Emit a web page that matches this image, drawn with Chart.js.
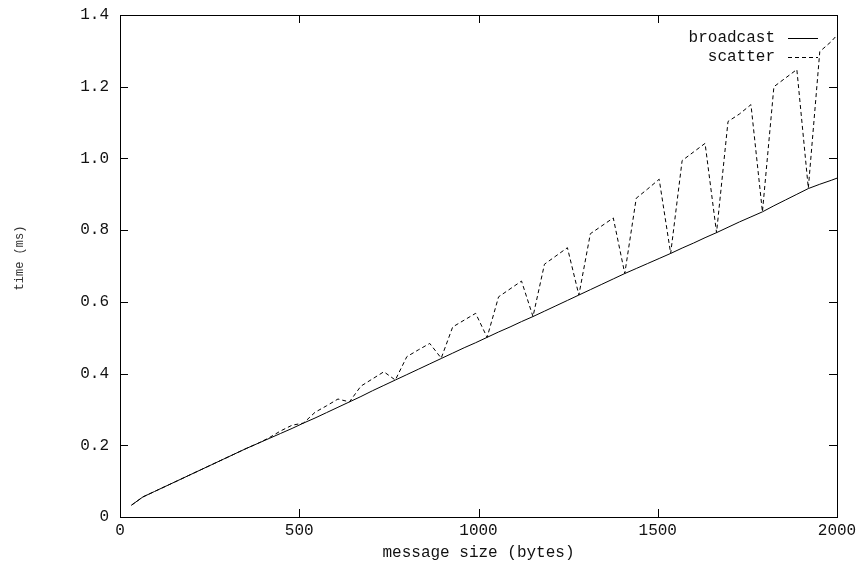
<!DOCTYPE html>
<html>
<head>
<meta charset="utf-8">
<script src="https://cdn.jsdelivr.net/npm/chart.js"></script>
<style>
  html, body { margin: 0; padding: 0; background: #fff; }
  canvas { display: block; }
</style>
</head>
<body>
<canvas id="chart" width="859" height="565"></canvas>
<script>
// message sizes in bytes, one sample every 32 bytes
const msgSize = [32, 64, 96, 128, 160, 192, 224, 256, 288, 320, 352, 384,
  416, 448, 480, 512, 544, 576, 608, 640, 672, 704, 736, 768,
  800, 832, 864, 896, 928, 960, 992, 1024, 1056, 1088, 1120, 1152,
  1184, 1216, 1248, 1280, 1312, 1344, 1376, 1408, 1440, 1472, 1504, 1536,
  1568, 1600, 1632, 1664, 1696, 1728, 1760, 1792, 1824, 1856, 1888, 1920,
  1952, 1984, 2016];

// time in ms
const broadcast = [0.033, 0.056, 0.071, 0.086, 0.101, 0.116, 0.131, 0.146, 0.161, 0.176, 0.191, 0.205,
  0.219, 0.233, 0.247, 0.262, 0.276, 0.291, 0.306, 0.321, 0.336, 0.352, 0.367, 0.382,
  0.397, 0.412, 0.427, 0.442, 0.457, 0.472, 0.486, 0.501, 0.516, 0.530, 0.545, 0.559,
  0.574, 0.589, 0.604, 0.619, 0.634, 0.649, 0.664, 0.679, 0.693, 0.707, 0.721, 0.735,
  0.750, 0.764, 0.779, 0.793, 0.808, 0.823, 0.837, 0.851, 0.868, 0.884, 0.900, 0.916,
  0.928, 0.939, 0.951];

const scatter = [0.033, 0.056, 0.071, 0.086, 0.101, 0.116, 0.131, 0.146, 0.161, 0.176, 0.191, 0.205,
  0.221, 0.240, 0.256, 0.262, 0.292, 0.310, 0.329, 0.321, 0.365, 0.385, 0.405, 0.382,
  0.447, 0.466, 0.484, 0.443, 0.530, 0.549, 0.568, 0.501, 0.614, 0.636, 0.658, 0.559,
  0.705, 0.728, 0.751, 0.619, 0.790, 0.812, 0.834, 0.679, 0.889, 0.915, 0.942, 0.735,
  0.994, 1.018, 1.042, 0.793, 1.103, 1.124, 1.150, 0.851, 1.200, 1.224, 1.248, 0.917,
  1.298, 1.326, 1.362];

const xTickLabels = ['0', '500', '1000', '1500', '2000'];
const yTickLabels = ['0', '0.2', '0.4', '0.6', '0.8', '1.0', '1.2', '1.4'];

const FAMILY = '"Liberation Mono", "DejaVu Sans Mono", monospace';
const FONT = { family: FAMILY, size: 16 };
const TICK = 8;

const points = (ys) => msgSize.map((x, i) => ({ x: x, y: ys[i] }));

// gnuplot style box with inward tics on all four sides, the key and the y label
const frame = {
  id: 'frame',
  afterDatasetsDraw(chart) {
    const { ctx, chartArea: a, scales: { x, y } } = chart;
    ctx.save();
    ctx.strokeStyle = '#000';
    ctx.lineWidth = 1;
    ctx.setLineDash([]);
    ctx.strokeRect(a.left + 0.5, a.top + 0.5, a.right - a.left, a.bottom - a.top);

    ctx.beginPath();
    x.ticks.forEach(t => {
      const px = Math.round(x.getPixelForValue(t.value)) + 0.5;
      ctx.moveTo(px, a.bottom); ctx.lineTo(px, a.bottom - TICK);
      ctx.moveTo(px, a.top); ctx.lineTo(px, a.top + TICK);
    });
    y.ticks.forEach(t => {
      const py = Math.round(y.getPixelForValue(t.value)) + 0.5;
      ctx.moveTo(a.left, py); ctx.lineTo(a.left + TICK, py);
      ctx.moveTo(a.right, py); ctx.lineTo(a.right - TICK, py);
    });
    ctx.stroke();

    // key, top right: label then line sample
    ctx.font = FONT.size + 'px ' + FAMILY;
    ctx.textAlign = 'right';
    ctx.textBaseline = 'middle';
    ctx.fillStyle = '#111';
    chart.data.datasets.forEach((ds, i) => {
      const ky = 38 + i * 19;
      ctx.fillText(ds.label, 775, ky);
      ctx.setLineDash(ds.borderDash || []);
      ctx.beginPath();
      ctx.moveTo(788, ky + 0.5);
      ctx.lineTo(818, ky + 0.5);
      ctx.stroke();
    });

    // rotated y label
    ctx.font = '12px ' + FAMILY;
    ctx.textAlign = 'center';
    ctx.fillStyle = '#333';
    ctx.translate(20, 258);
    ctx.rotate(-Math.PI / 2);
    ctx.fillText('time (ms)', 0, 0);
    ctx.restore();
  }
};

new Chart(document.getElementById('chart'), {
  type: 'line',
  data: {
    datasets: [
      {
        label: 'broadcast',
        data: points(broadcast),
        borderColor: '#000',
        borderWidth: 1,
        pointRadius: 0,
        tension: 0
      },
      {
        label: 'scatter',
        data: points(scatter),
        borderColor: '#000',
        borderWidth: 1,
        borderDash: [4, 3],
        pointRadius: 0,
        tension: 0
      }
    ]
  },
  options: {
    responsive: false,
    animation: false,
    devicePixelRatio: 1,
    layout: { padding: { top: 15, right: 22, left: 0, bottom: 0 } },
    plugins: {
      legend: { display: false },
      tooltip: { enabled: false }
    },
    scales: {
      x: {
        type: 'linear',
        min: 0,
        max: 2000,
        grid: { display: false, drawTicks: false },
        border: { display: false },
        afterFit: (s) => { s.height = 48; },
        ticks: {
          stepSize: 500,
          maxRotation: 0,
          padding: 2,
          color: '#111',
          font: { family: FAMILY, size: 16, lineHeight: 1.45 },
          callback: (v, i) => xTickLabels[i]
        },
        title: {
          display: true,
          text: 'message size (bytes)',
          color: '#111',
          font: FONT,
          padding: { top: 0, bottom: 3 }
        }
      },
      y: {
        min: 0,
        max: 1.4,
        grid: { display: false, drawTicks: false },
        border: { display: false },
        afterFit: (s) => { s.width = 120; },
        ticks: {
          stepSize: 0.2,
          padding: 11,
          color: '#111',
          font: { family: FAMILY, size: 16, lineHeight: 0.5 },
          callback: (v, i) => yTickLabels[i]
        }
      }
    }
  },
  plugins: [frame]
});
</script>
</body>
</html>
